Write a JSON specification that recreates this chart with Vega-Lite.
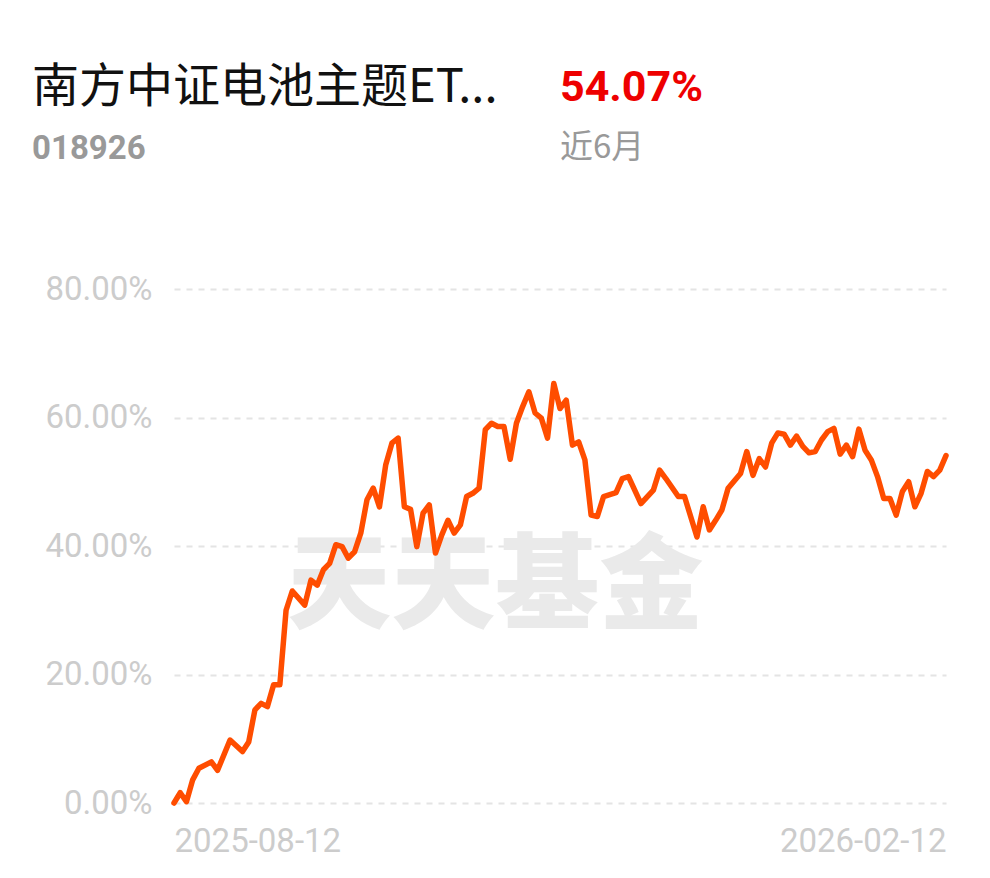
{
  "$schema": "https://vega.github.io/schema/vega-lite/v6.json",
  "autosize": "none",
  "width": 772,
  "height": 514,
  "padding": {"left": 174, "top": 289, "right": 44, "bottom": 75},
  "background": "white",
  "config": {"view": {"stroke": null}},
  "resolve": {"scale": {"color": "independent", "size": "independent"}},
  "datasets": {
    "nav": [
      {"t":0,"v":0.0},{"t":1,"v":1.6},{"t":2,"v":0.2},{"t":3,"v":3.6},{"t":4,"v":5.4},
      {"t":6,"v":6.4},{"t":7,"v":5.1},{"t":9,"v":9.8},{"t":11,"v":8.0},{"t":12,"v":9.5},
      {"t":13,"v":14.5},{"t":14,"v":15.5},{"t":15,"v":15.0},{"t":16,"v":18.4},{"t":17,"v":18.4},
      {"t":18,"v":30.0},{"t":19,"v":33.0},{"t":21,"v":30.8},{"t":22,"v":34.7},{"t":23,"v":33.9},
      {"t":24,"v":36.3},{"t":25,"v":37.3},{"t":26,"v":40.2},{"t":27,"v":39.9},{"t":28,"v":38.1},
      {"t":29,"v":39.1},{"t":30,"v":42.0},{"t":31,"v":47.2},{"t":32,"v":49.0},{"t":33,"v":46.1},
      {"t":34,"v":52.6},{"t":35,"v":56.0},{"t":36,"v":56.8},{"t":37,"v":46.1},{"t":38,"v":45.7},
      {"t":39,"v":39.9},{"t":40,"v":45.1},{"t":41,"v":46.4},{"t":42,"v":38.9},{"t":43,"v":41.7},
      {"t":44,"v":44.0},{"t":45,"v":42.0},{"t":46,"v":43.3},{"t":47,"v":47.7},{"t":48,"v":48.2},
      {"t":49,"v":49.0},{"t":50,"v":58.1},{"t":51,"v":59.1},{"t":52,"v":58.6},{"t":53,"v":58.6},
      {"t":54,"v":53.5},{"t":55,"v":59.1},{"t":56,"v":61.7},{"t":57,"v":64.0},{"t":58,"v":60.7},
      {"t":59,"v":59.9},{"t":60,"v":56.8},{"t":61,"v":65.3},{"t":62,"v":61.4},{"t":63,"v":62.7},
      {"t":64,"v":55.7},{"t":65,"v":56.2},{"t":66,"v":53.4},{"t":67,"v":44.8},{"t":68,"v":44.6},
      {"t":69,"v":47.7},{"t":71,"v":48.3},{"t":72,"v":50.5},{"t":73,"v":50.8},{"t":75,"v":46.6},
      {"t":77,"v":48.7},{"t":78,"v":51.8},{"t":79,"v":50.5},{"t":81,"v":47.7},{"t":82,"v":47.7},
      {"t":84,"v":41.4},{"t":85,"v":46.1},{"t":86,"v":42.5},{"t":87,"v":44.0},{"t":88,"v":45.6},
      {"t":89,"v":49.0},{"t":91,"v":51.3},{"t":92,"v":54.7},{"t":93,"v":51.0},{"t":94,"v":53.6},
      {"t":95,"v":52.3},{"t":96,"v":56.0},{"t":97,"v":57.6},{"t":98,"v":57.4},{"t":99,"v":55.7},
      {"t":100,"v":57.1},{"t":101,"v":55.5},{"t":102,"v":54.5},{"t":103,"v":54.7},{"t":104,"v":56.5},
      {"t":105,"v":57.8},{"t":106,"v":58.3},{"t":107,"v":54.3},{"t":108,"v":55.7},{"t":109,"v":53.9},
      {"t":110,"v":58.2},{"t":111,"v":54.9},{"t":112,"v":53.4},{"t":113,"v":50.8},{"t":114,"v":47.4},
      {"t":115,"v":47.4},{"t":116,"v":44.8},{"t":117,"v":48.5},{"t":118,"v":50.0},{"t":119,"v":46.1},
      {"t":120,"v":48.2},{"t":121,"v":51.6},{"t":122,"v":50.8},{"t":123,"v":51.8},{"t":124,"v":54.07}
    ],
    "headerNormal": [
      {"label": "南方中证电池主题ET...", "t": -22.8, "v": 109.1, "kind": "name"},
      {"label": "近6月", "t": 62.0, "v": 100.4, "kind": "period"}
    ],
    "headerBold": [
      {"label": "018926", "t": -22.8, "v": 100.3, "kind": "code"},
      {"label": "54.07%", "t": 62.0, "v": 109.2, "kind": "ret"}
    ],
    "mark": [
      {"label": "天天基金", "t": 51.6, "v": 33.2}
    ]
  },
  "layer": [
    {
      "data": {"name": "mark"},
      "mark": {"type": "text", "font": "Noto Sans CJK SC", "fontWeight": 900, "fontSize": 104, "color": "#eaeaea", "align": "center", "baseline": "middle"},
      "encoding": {
        "x": {"field": "t", "type": "quantitative", "scale": {"domain": [0, 124], "nice": false, "zero": false},
          "axis": {"values": [0, 124], "title": null, "grid": false, "ticks": false, "domain": false,
            "labelExpr": "datum.value == 0 ? '2025-08-12' : '2026-02-12'",
            "labelAlign": {"expr": "datum.value == 0 ? 'left' : 'right'"},
            "labelFont": "Roboto", "labelFontSize": 33, "labelColor": "#cccccc", "labelPadding": 22, "labelBound": false, "labelFlush": false}},
        "y": {"field": "v", "type": "quantitative", "scale": {"domain": [0, 80], "nice": false},
          "axis": {"values": [0, 20, 40, 60, 80], "title": null, "ticks": false, "domain": false,
            "labelExpr": "format(datum.value, '.2f') + '%'",
            "labelFont": "Roboto", "labelFontSize": 33, "labelColor": "#cccccc", "labelPadding": 22,
            "grid": true, "gridColor": "#e4e4e4", "gridWidth": 2, "gridDash": [6, 6]}},
        "text": {"field": "label"}
      }
    },
    {
      "data": {"name": "nav"},
      "mark": {"type": "line", "color": "#ff4d00", "strokeWidth": 5.5, "strokeJoin": "round", "strokeCap": "round"},
      "encoding": {
        "x": {"field": "t", "type": "quantitative"},
        "y": {"field": "v", "type": "quantitative"}
      }
    },
    {
      "data": {"name": "headerNormal"},
      "mark": {"type": "text", "align": "left", "baseline": "alphabetic", "font": "Noto Sans CJK SC", "fontWeight": "normal"},
      "encoding": {
        "x": {"field": "t", "type": "quantitative"},
        "y": {"field": "v", "type": "quantitative"},
        "text": {"field": "label"},
        "color": {"field": "kind", "type": "nominal", "legend": null,
          "scale": {"domain": ["name", "period"], "range": ["#111111", "#999999"]}},
        "size": {"field": "kind", "type": "nominal", "legend": null,
          "scale": {"domain": ["name", "period"], "range": [47, 33]}}
      }
    },
    {
      "data": {"name": "headerBold"},
      "mark": {"type": "text", "align": "left", "baseline": "alphabetic", "font": "Roboto", "fontWeight": "bold"},
      "encoding": {
        "x": {"field": "t", "type": "quantitative"},
        "y": {"field": "v", "type": "quantitative"},
        "text": {"field": "label"},
        "color": {"field": "kind", "type": "nominal", "legend": null,
          "scale": {"domain": ["code", "ret"], "range": ["#999999", "#ee0000"]}},
        "size": {"field": "kind", "type": "nominal", "legend": null,
          "scale": {"domain": ["code", "ret"], "range": [33, 43]}}
      }
    }
  ]
}
